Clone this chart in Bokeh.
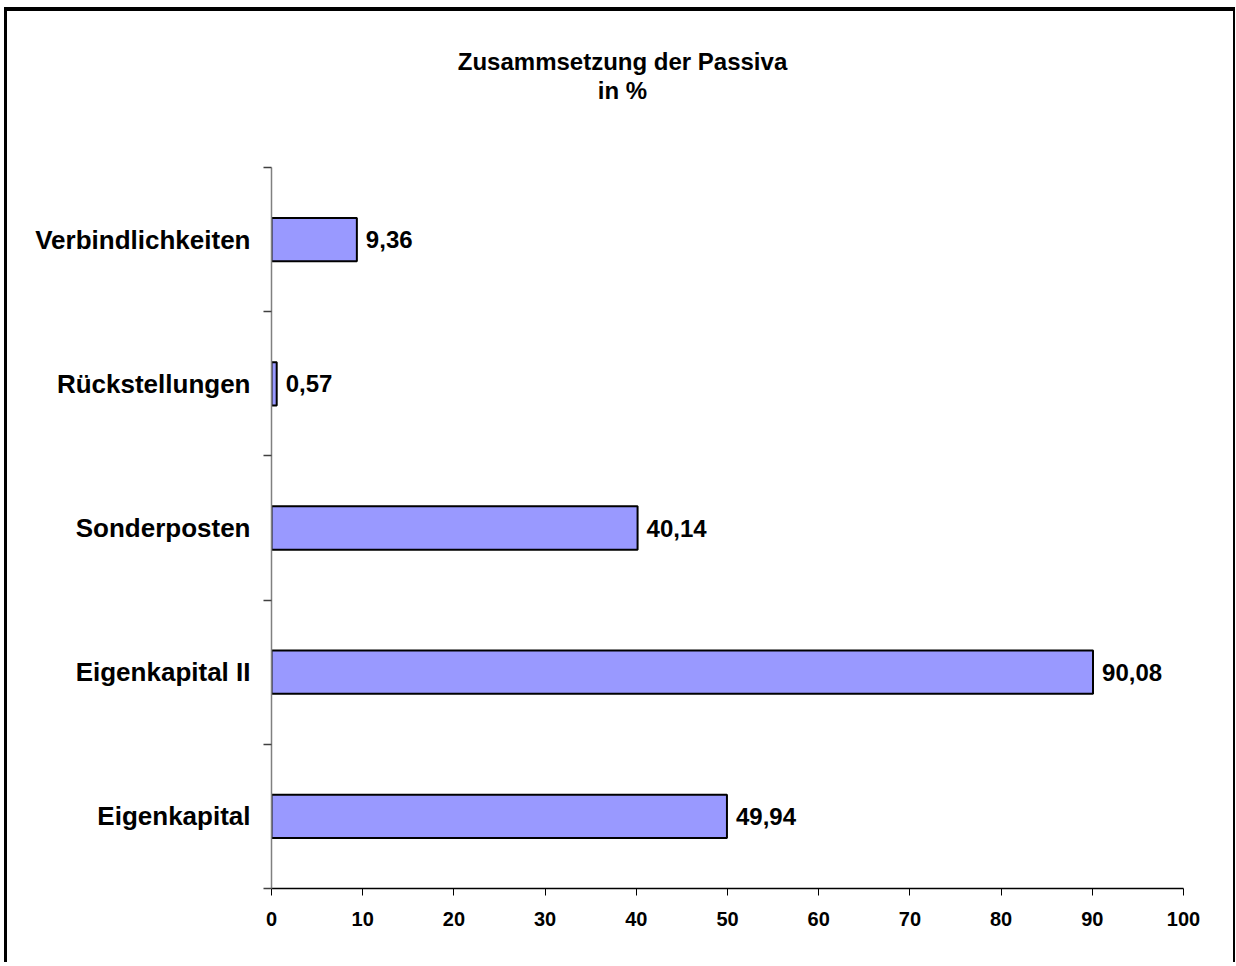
from bokeh.plotting import figure
from bokeh.models import ColumnDataSource, FixedTicker, Title, Range1d
from bokeh.core.properties import value
from bokeh.embed import file_html
from bokeh.resources import INLINE

categories = ["Eigenkapital", "Eigenkapital II", "Sonderposten", "Rückstellungen", "Verbindlichkeiten"]
values = [49.94, 90.08, 40.14, 0.57, 9.36]
value_labels = ["49,94", "90,08", "40,14", "0,57", "9,36"]
x_ticks = [0, 10, 20, 30, 40, 50, 60, 70, 80, 90, 100]
title_lines = ["Zusammsetzung der Passiva", "in %"]

FONT = "Liberation Sans"

pos = [i + 0.5 for i in range(len(categories))]
src = ColumnDataSource(dict(y=pos, v=values, lab=value_labels))

p = figure(width=1231, height=955, output_backend="svg", toolbar_location=None,
           x_range=Range1d(0, 100), y_range=Range1d(0, len(categories)),
           min_border_left=264, min_border_right=55, min_border_top=156, min_border_bottom=78,
           background_fill_color="white", border_fill_color="white")
p.styles = {"border-left": "3px solid black", "border-top": "4px solid black",
            "border-right": "2px solid black", "margin-left": "4px", "margin-top": "7px"}
p.outline_line_color = None
p.grid.visible = False

p.hbar(y="y", right="v", left=0, height=0.3, source=src,
       fill_color="#9999FF", line_color="black", line_width=2)
p.text(x="v", y="y", text="lab", source=src, x_offset=9,
       text_font=value(FONT), text_font_style="bold", text_font_size="24px",
       text_baseline="middle", text_align="left", text_color="black")

# x axis
xa = p.xaxis[0]
xa.ticker = FixedTicker(ticks=x_ticks, minor_ticks=[])
xa.axis_line_color = "black"
xa.axis_line_width = 1.5
xa.major_tick_line_color = "black"
xa.major_tick_out = 7
xa.major_tick_in = 0
xa.minor_tick_out = 0
xa.major_label_standoff = 16
xa.major_label_text_font = FONT
xa.major_label_text_font_style = "bold"
xa.major_label_text_font_size = "20px"
xa.major_label_text_color = "black"

# y axis
ya = p.yaxis[0]
ya.ticker = FixedTicker(ticks=pos, minor_ticks=list(range(len(categories) + 1)))
ya.major_label_overrides = {p_: c for p_, c in zip(pos, categories)}
ya.axis_line_color = "#808080"
ya.axis_line_width = 1.5
ya.major_tick_out = 0
ya.major_tick_in = 0
ya.minor_tick_out = 8
ya.minor_tick_in = 0
ya.minor_tick_line_color = "#404040"
ya.minor_tick_line_width = 1.5
ya.major_label_standoff = 13
ya.major_label_text_font = FONT
ya.major_label_text_font_style = "bold"
ya.major_label_text_font_size = "26px"
ya.major_label_text_color = "black"

# title lines, centred over the whole figure (frame left is at 271 px, centre ~622 px)
w1 = 13.727 * 24
w2 = 2.056 * 24
# spacer between frame and title block
p.add_layout(Title(text=" ", text_font=FONT, text_font_size="24px", standoff=35), "above")
p.add_layout(Title(text=title_lines[1], align="left", offset=351 - w2 / 2,
                   text_font=FONT, text_font_style="bold", text_font_size="24px",
                   text_color="black", standoff=0), "above")
p.add_layout(Title(text=title_lines[0], align="left", offset=351 - w1 / 2,
                   text_font=FONT, text_font_style="bold", text_font_size="24px",
                   text_color="black", standoff=0), "above")

open("out.html", "w").write(file_html(p, INLINE))
